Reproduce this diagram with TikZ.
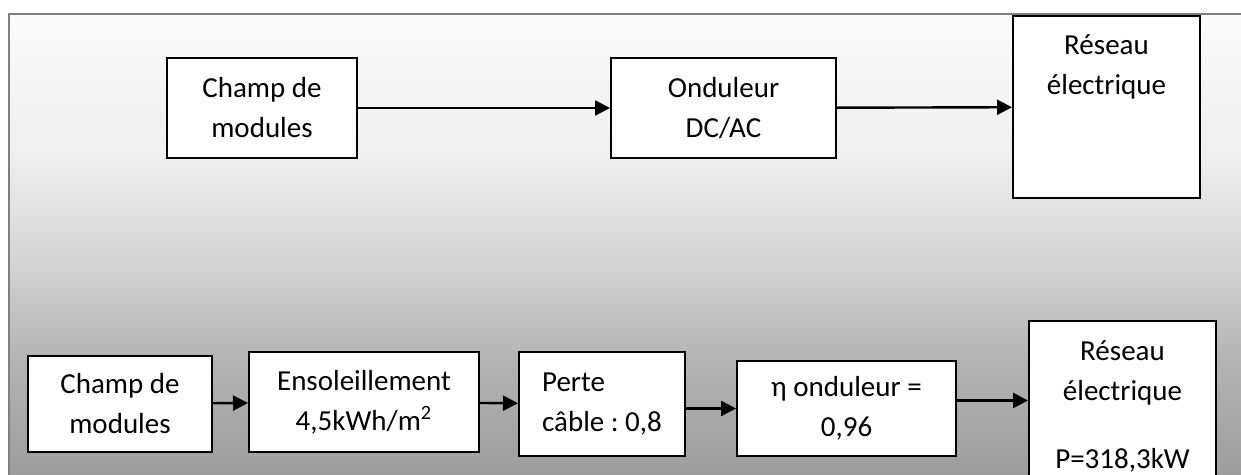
\documentclass[tikz,border=0pt]{standalone}
\usepackage{fontspec}
\setmainfont{Carlito}
\frenchspacing
\usetikzlibrary{arrows.meta}
\definecolor{framegray}{RGB}{128,128,128}
\definecolor{bgA}{RGB}{251,251,251}
\definecolor{bgB}{RGB}{239,239,239}
\definecolor{bgC}{RGB}{213,213,213}
\definecolor{bgD}{RGB}{179,179,179}
\definecolor{bgE}{RGB}{154,154,154}
\pgfdeclareverticalshading{bgfade}{100bp}{color(0bp)=(bgE); color(25bp)=(bgE);
  color(38.6bp)=(bgD); color(49.4bp)=(bgC); color(60.25bp)=(bgB);
  color(75bp)=(bgA); color(100bp)=(bgA)}
\begin{document}
\begin{tikzpicture}[x=0.5pt,y=-0.5pt,
  main node/.style={draw,line width=1pt,fill=white,inner sep=0pt,align=center,
    font=\fontsize{14.5pt}{20pt}\selectfont},
  text node/.style={inner sep=0pt,align=center,font=\fontsize{14.5pt}{20pt}\selectfont},
  link/.style={line width=1.2pt,-{Triangle[length=7.5pt,width=7.5pt]}}]
  \useasboundingbox (0,0) rectangle (1241,475);
  \clip (0,0) rectangle (1241,475);
  \shade[shading=bgfade] (9,14) rectangle (1250,490);
  \draw[line width=1pt,framegray] (1250,14) -- (9,14) -- (9,490);
  % schema general
  \node[main node,minimum width=95pt,minimum height=50pt] (champ1) at (262,108) {Champ de\\modules};
  \node[main node,minimum width=112.5pt,minimum height=50pt] (ond1) at (723.5,108) {Onduleur\\DC/AC};
  \node[main node,minimum width=93.5pt,minimum height=91pt] (res1) at (1106.5,107) {};
  \node[text node] (res1txt) at (1106.5,67) {Réseau\\électrique};
  \draw[link] (champ1) -- (ond1);
  \draw[link] (ond1) -- (res1);
  % bilan
  \node[main node,minimum width=92pt,minimum height=48pt] (champ2) at (120,404) {Champ de\\modules};
  \node[main node,minimum width=115pt,minimum height=50pt] (sol) at (364,402) {Ensoleillement\\4,5kWh/m\textsuperscript{2}};
  \node[main node,minimum width=83pt,minimum height=52pt,align=left] (perte) at (602,404) {Perte\\câble : 0,8};
  \node[main node,minimum width=109.5pt,minimum height=47.5pt] (eta) at (846.5,408.5) {η onduleur =\\0,96};
  \node[main node,minimum width=93.5pt,minimum height=94.5pt] (res2) at (1122.5,415.5) {};
  \node[text node] (res2txt) at (1122.5,406) {Réseau\\électrique\\[14pt]P=318,3kW};
  \coordinate (etaout) at ([yshift=4pt]eta.east);
  \draw[link] (champ2) -- (sol);
  \draw[link] (sol) -- (perte);
  \draw[link] (perte.east |- eta.west) -- (eta.west);
  \draw[link] (etaout) -- (etaout -| res2.west);
\end{tikzpicture}
\end{document}
